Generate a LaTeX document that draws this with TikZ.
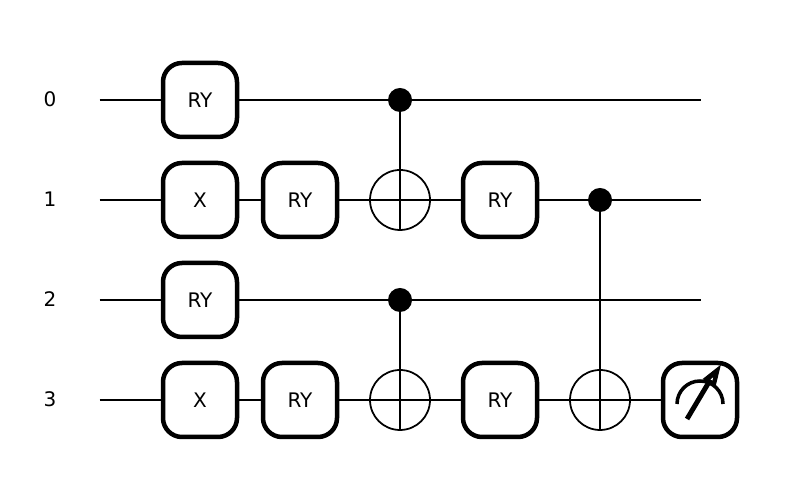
\documentclass[tikz,border=0pt]{standalone}
\usepackage{fontspec}
\setmainfont{DejaVu Sans}
\tikzset{
    gatebox/.style={draw=black,fill=white,line width=1.28pt,rounded corners=0.19cm,minimum size=0.74cm,inner sep=0pt,outer sep=0pt,font=\fontsize{5.7pt}{6pt}\selectfont},
    wirelabel/.style={font=\fontsize{5.7pt}{6pt}\selectfont,inner sep=0pt},
    ctrldot/.style={circle,fill=black,minimum size=0.24cm,inner sep=0pt,outer sep=0pt},
    targetcirc/.style={circle,draw=black,fill=white,line width=0.5pt,minimum size=0.6cm,inner sep=0pt,outer sep=0pt},
    wire/.style={line width=0.57pt,black},
}
\begin{document}
\begin{tikzpicture}
    \useasboundingbox (0,0) rectangle (8,5);
    % wire labels and ends
    \node[wirelabel] (lab0) at (0.5,4.005) {0};
    \node[wirelabel] (lab1) at (0.5,3.005) {1};
    \node[wirelabel] (lab2) at (0.5,2.005) {2};
    \node[wirelabel] (lab3) at (0.5,1.005) {3};
    \coordinate (in0) at (0.995,4);
    \coordinate (in1) at (0.995,3);
    \coordinate (in2) at (0.995,2);
    \coordinate (in3) at (0.995,1);
    \coordinate (out0) at (7.005,4);
    \coordinate (out1) at (7.005,3);
    \coordinate (out2) at (7.005,2);
    % gates
    \node[gatebox] (ry0) at (2,4) {RY};
    \node[gatebox] (xa) at (2,3) {X};
    \node[gatebox] (rya) at (3,3) {RY};
    \node[gatebox] (ryb) at (5,3) {RY};
    \node[gatebox] (ry2) at (2,2) {RY};
    \node[gatebox] (xc) at (2,1) {X};
    \node[gatebox] (ryc) at (3,1) {RY};
    \node[gatebox] (ryd) at (5,1) {RY};
    \node[gatebox] (meas) at (7,1) {};
    % controls and targets
    \node[ctrldot] (c0) at (4,4) {};
    \node[ctrldot] (c1) at (6,3) {};
    \node[ctrldot] (c2) at (4,2) {};
    \node[targetcirc] (t1) at (4,3) {};
    \node[targetcirc] (t3) at (4,1) {};
    \node[targetcirc] (t3b) at (6,1) {};
    % wire 0
    \draw[wire] (in0) -- (ry0);
    \draw[wire] (ry0) -- (c0);
    \draw[wire] (c0) -- (out0);
    % wire 1
    \draw[wire] (in1) -- (xa);
    \draw[wire] (xa) -- (rya);
    \draw[wire] (rya) -- (t1.west);
    \draw[wire] (t1.west) -- (t1.east);
    \draw[wire] (t1.east) -- (ryb);
    \draw[wire] (ryb) -- (c1);
    \draw[wire] (c1) -- (out1);
    % wire 2
    \draw[wire] (in2) -- (ry2);
    \draw[wire] (ry2) -- (c2);
    \draw[wire] (c2) -- (out2);
    % wire 3
    \draw[wire] (in3) -- (xc);
    \draw[wire] (xc) -- (ryc);
    \draw[wire] (ryc) -- (t3.west);
    \draw[wire] (t3.west) -- (t3.east);
    \draw[wire] (t3.east) -- (ryd);
    \draw[wire] (ryd) -- (t3b.west);
    \draw[wire] (t3b.west) -- (t3b.east);
    \draw[wire] (t3b.east) -- (meas);
    % control lines
    \draw[wire] (c0) -- (t1.south);
    \draw[wire] (c2) -- (t3.south);
    \draw[wire] (c1) -- (t3b.south);
    % meter
    \draw[line width=1pt] (6.77,0.96) arc (180:0:0.23);
    \draw[line width=1.4pt] (6.87,0.81) -- (7.09,1.18);
    \draw[line width=0.3pt,fill=black,miter limit=8] (7.2,1.34) -- (7.035,1.21) -- (7.155,1.155) -- cycle;
    \fill[white] (7.13,1.225) -- (7.105,1.205) -- (7.125,1.195) -- cycle;
\end{tikzpicture}
\end{document}
